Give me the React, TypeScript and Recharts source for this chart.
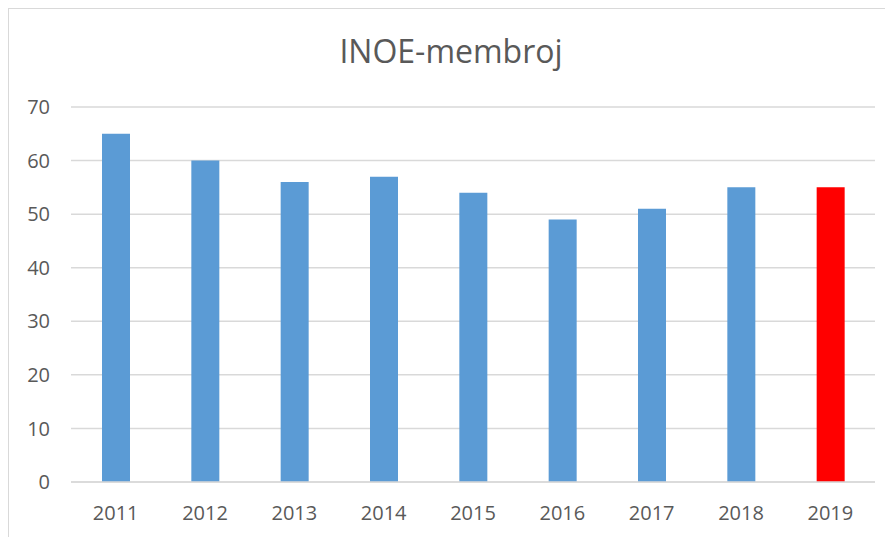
import React from "react";
import { BarChart, Bar, XAxis, YAxis, CartesianGrid, Cell } from "recharts";

const years = ["2011", "2012", "2013", "2014", "2015", "2016", "2017", "2018", "2019"];
const members = [65, 60, 56, 57, 54, 49, 51, 55, 55];
const yTicks = [0, 10, 20, 30, 40, 50, 60, 70];

const BLUE = "#5B9BD5";
const RED = "#FF0000";
const GRID = "#d9d9d9";
const TEXT = "#595959";
const FONT = "'Open Sans', sans-serif";

const data = years.map((year, i) => ({ year, value: members[i] }));

const App = () => {
  return (
    <div
      style={{
        position: "relative",
        width: 885,
        height: 529,
        boxSizing: "border-box",
        borderLeft: `1px solid ${GRID}`,
        borderTop: `1px solid ${GRID}`,
        fontFamily: FONT,
        background: "#fff",
      }}
    >
      <div
        style={{
          position: "absolute",
          left: 0,
          right: 0,
          top: 22,
          textAlign: "center",
          fontSize: 32,
          color: TEXT,
          lineHeight: "40px",
        }}
      >
        INOE-membroj
      </div>
      <BarChart
        width={884}
        height={528}
        data={data}
        margin={{ top: 98, right: 18, bottom: 13, left: 0 }}
      >
        <CartesianGrid vertical={false} stroke={GRID} strokeWidth={1.5} />
        <XAxis
          dataKey="year"
          axisLine={{ stroke: GRID, strokeWidth: 1.5 }}
          tickLine={false}
          tickMargin={18}
          height={42}
          tick={{ fill: TEXT, fontSize: 20, fontFamily: FONT }}
        />
        <YAxis
          domain={[0, 70]}
          ticks={yTicks}
          axisLine={false}
          tickLine={false}
          tickMargin={15}
          width={62}
          tick={{ fill: TEXT, fontSize: 20, fontFamily: FONT }}
        />
        <Bar dataKey="value" barSize={28} isAnimationActive={false}>
          {data.map((entry, index) => (
            <Cell key={`cell-${index}`} fill={entry.year === "2019" ? RED : BLUE} />
          ))}
        </Bar>
      </BarChart>
    </div>
  );
};

export default App;
